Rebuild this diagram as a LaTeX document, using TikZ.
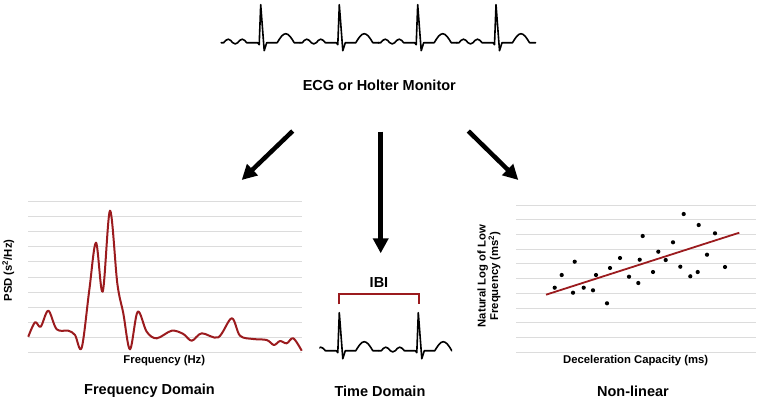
\documentclass[tikz,border=0pt]{standalone}
\usepackage{fontspec}
\setmainfont{Liberation Sans}
\usetikzlibrary{arrows.meta}
\definecolor{psdred}{RGB}{155,27,30}
\definecolor{gridgray}{RGB}{220,220,220}
\def\ecgbeat(#1,#2){\draw[ecg, shift={(#1,#2)}] (-39.5,0) -- (-37,0) sin (-32.5,-3.5) cos (-28,0) sin (-25.5,1.2) cos (-23,0) sin (-18.5,-3.5) cos (-14,0) -- (-3,0) -- (-1.5,2) -- (0,-38) -- (3.5,8) -- (6,0) -- (16.5,0) sin (25,-9) cos (33.5,0) -- (39.5,0);}

\begin{document}
\begin{tikzpicture}[x=1pt, y=-1pt,
		ecg/.style={line width=1.6pt, line join=round, line cap=round, black},
		grid/.style={line width=0.9pt, gridgray},
		bigarrow/.style={line width=4.5pt, -{Triangle[length=15pt, width=15pt]}},
		heading/.style={font=\bfseries\fontsize{14.5}{16}\selectfont},
		axislabel/.style={font=\bfseries\fontsize{11.3}{12.5}\selectfont, align=center}]
			%%%%% START %%%%%
			\useasboundingbox (0,0) rectangle (759,402);
			
			% monitor trace
			\foreach \r in {260.7,339.3,417.7,496} {\ecgbeat(\r,42.7)}
			\node[heading] (title) at (379.3,85) {ECG or Holter Monitor};
			
			% arrows
			\coordinate (src-l) at (292.7,131);
			\coordinate (dst-l) at (241.7,180);
			\coordinate (src-m) at (380.7,131.7);
			\coordinate (dst-m) at (380.7,253.3);
			\coordinate (src-r) at (468.3,131);
			\coordinate (dst-r) at (518.3,180);
			\draw[bigarrow] (src-l) -- (dst-l);
			\draw[bigarrow] (src-m) -- (dst-m);
			\draw[bigarrow] (src-r) -- (dst-r);
			
			% frequency domain
			\foreach \i in {0,...,10} \draw[grid] (28.3,{201.7+15.06*\i}) -- (301.7,{201.7+15.06*\i});
			\draw[psdred, line width=2pt, line join=round] plot[smooth, tension=0.55] coordinates {
				(28.3,336.7) (35,322.3) (40.7,326.7) (48.3,310.7) (56.7,329.3) (68.3,330.7)
				(75,335) (81.7,347.7) (89.3,290) (96,242.7) (102.7,291.7) (110,210.7)
				(117.3,283.3) (123.3,313.3) (130,349.3) (137.7,311.7) (146.7,331.7)
				(156.7,338.3) (171.7,330.7) (183.3,334) (191.7,340.7) (201.7,333.3)
				(218.3,337.3) (231.7,318.3) (240,335.7) (253.3,339) (266.7,340)
				(274,345) (280,341) (286.7,343.3) (293.3,338.3) (301.7,350.7)};
			\node[axislabel, rotate=90] (psd) at (8.3,270.5) {PSD (s\textsuperscript{2}/Hz)};
			\node[axislabel] (freq) at (164.3,361) {Frequency (Hz)};
			\node[heading] (fdom) at (149.5,391) {Frequency Domain};
			
			% time domain
			\begin{scope}
				\clip (319.3,290) rectangle (452,370);
				\foreach \r in {260.7,339.3,418.3} {\ecgbeat(\r,350.7)}
			\end{scope}
			\draw[psdred, line width=2pt] (339.3,304.3) -- (339.3,294.3) -- (418.8,294.3) -- (418.8,304.3);
			\node[heading] (ibi) at (379,282.5) {IBI};
			\node[heading] (tdom) at (380,391) {Time Domain};
			
			% non-linear
			\foreach \i in {0,...,10} \draw[grid] (516,{205+14.73*\i}) -- (755.7,{205+14.73*\i});
			\draw[psdred, line width=1.8pt] (546,294.7) -- (739.3,232.7);
			\foreach \p in {(554.7,287.7),(561.7,275),(574.7,261.7),(573,292.7),(583.7,287.7),
				(593,290.3),(596,275),(607,303.3),(610,268),(620,258),(629,276.7),(638.3,283),
				(639.7,259.7),(642.7,236),(653,272),(658.3,251.7),(665.7,260),(673,242.3),
				(680.3,266.7),(683.7,214),(690.3,276.3),(697.7,272),(698.7,225),(707,254.7),
				(715,233.3),(725,267)} \fill \p circle (2.1);
			\node[axislabel, rotate=90] (lnlf) at (489,276) {Natural Log of Low\\Frequency (ms\textsuperscript{2})};
			\node[axislabel] (dc) at (635.7,361) {Deceleration Capacity (ms)};
			\node[heading] (nonlin) at (633,391) {Non-linear};
			
			%%%%% END %%%%%
		\end{tikzpicture}
\end{document}
